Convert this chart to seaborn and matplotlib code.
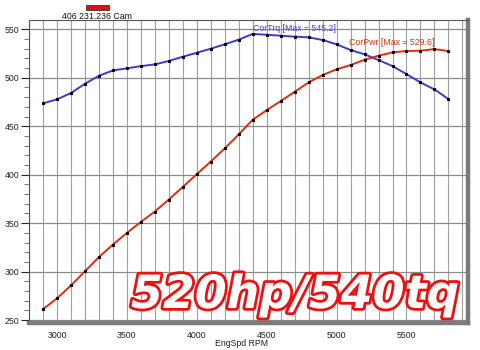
import numpy as np
import pandas as pd
import seaborn as sns
import matplotlib
matplotlib.use("Agg")
import matplotlib.pyplot as plt
from matplotlib.ticker import MultipleLocator
from matplotlib.patches import Rectangle
import matplotlib.patheffects as pe

# Dyno sweep: engine speed (RPM), corrected torque (lb-ft) and corrected power (hp)
rpm = [2900, 3000, 3100, 3200, 3300, 3400, 3500, 3600, 3700, 3800,
       3900, 4000, 4100, 4200, 4300, 4400, 4500, 4600, 4700, 4800,
       4900, 5000, 5100, 5200, 5300, 5400, 5500, 5600, 5700, 5800]
cor_trq = [473.6, 477.7, 484.2, 493.8, 502.0, 507.6, 509.7, 512.0, 513.8, 517.3,
           521.7, 525.8, 530.0, 534.5, 539.3, 545.2, 544.4, 543.4, 542.4, 541.7,
           539.0, 534.5, 528.6, 524.2, 518.3, 512.0, 503.8, 495.2, 488.0, 478.0]
cor_pwr = [261.2, 272.4, 285.7, 300.3, 315.0, 327.9, 339.9, 351.3, 362.0, 374.4,
           387.4, 400.5, 413.6, 427.1, 441.5, 456.7, 466.6, 475.9, 485.5, 495.2,
           502.8, 508.7, 513.1, 518.6, 522.7, 526.2, 527.6, 527.9, 529.6, 527.5]

x_ticks = [3000, 3500, 4000, 4500, 5000, 5500]
y_ticks = [250, 300, 350, 400, 450, 500, 550]
run_name = "406 231.236 Cam"
headline = "520hp/540tq"

df = pd.DataFrame({"EngSpd": rpm, "CorTrq": cor_trq, "CorPwr": cor_pwr})

sns.set_theme(style="white")
plt.rcParams["font.family"] = ["Liberation Sans", "DejaVu Sans"]

fig = plt.figure(figsize=(4.8, 3.5), dpi=100)
ax = fig.add_axes([29 / 480, 1 - 323 / 350, 439 / 480, 303 / 350])

trq_color = "#3a3ccc"
pwr_color = "#e32a0c"

sns.lineplot(data=df, x="EngSpd", y="CorTrq", ax=ax, color=trq_color, lw=1.4,
             marker="s", markersize=1.9, markerfacecolor="black",
             markeredgecolor="black", zorder=4)
sns.lineplot(data=df, x="EngSpd", y="CorPwr", ax=ax, color=pwr_color, lw=1.4,
             marker="s", markersize=1.9, markerfacecolor="black",
             markeredgecolor="black", zorder=4)

ax.set_xlim(2800, 5940)
ax.set_ylim(247, 559.6)
ax.set_xticks(x_ticks)
ax.set_yticks(y_ticks)
ax.xaxis.set_minor_locator(MultipleLocator(100))
ax.yaxis.set_minor_locator(MultipleLocator(10))

ax.grid(False)
ax.xaxis.grid(True, which="both", color="#a0a0a0", lw=0.8)
ax.yaxis.grid(True, which="major", color="#8a8a8a", lw=0.9)

ax.tick_params(axis="x", which="both", length=0, labelsize=6.3, pad=6,
               colors="#222222")
ax.tick_params(axis="y", which="major", length=6, width=0.8, labelsize=6.3,
               pad=1, colors="#222222", left=True)
ax.tick_params(axis="y", which="minor", length=3.5, width=0.6, left=True,
               color="#666666")

ax.set_xlabel("EngSpd RPM", fontsize=6.3, color="#222222")
ax.xaxis.set_label_coords(0.485, -0.052)
ax.set_ylabel("")

for side in ("top", "left"):
    ax.spines[side].set_color("#555555")
    ax.spines[side].set_linewidth(0.8)
for side in ("bottom", "right"):
    ax.spines[side].set_color("#7a7a7a")
    ax.spines[side].set_linewidth(3.2)

# Peak labels, anchored at the maximum of each curve
i_t = int(np.argmax(cor_trq))
i_p = int(np.argmax(cor_pwr))
ax.text(rpm[i_t], cor_trq[i_t] + 0.8, f"CorTrq [Max = {cor_trq[i_t]:.1f}]",
        color="#4448c0", fontsize=6.3, ha="left", va="bottom", zorder=5)
ax.text(rpm[i_p], cor_pwr[i_p] + 2.0, f"CorPwr [Max = {cor_pwr[i_p]:.1f}]",
        color="#d2320e", fontsize=6.3, ha="right", va="bottom", zorder=5)

# Run key above the plot frame
fig.patches.append(Rectangle((86 / 480, 1 - 10 / 350), 23 / 480, 5 / 350,
                             transform=fig.transFigure, facecolor="#dd1111",
                             edgecolor="#333333", lw=0.6))
fig.text(97 / 480, 1 - 16.5 / 350, run_name, fontsize=6.3, ha="center",
         va="center", color="#111111")

# Outlined headline
fig.text(131 / 480, 1 - 308 / 350, headline, fontsize=33,
         family="DejaVu Sans", fontweight="bold", fontstyle="oblique",
         color="white", ha="left", va="baseline", zorder=10,
         path_effects=[pe.withStroke(linewidth=4, foreground="#ee1010")])

fig.savefig("out.png", dpi=100)
